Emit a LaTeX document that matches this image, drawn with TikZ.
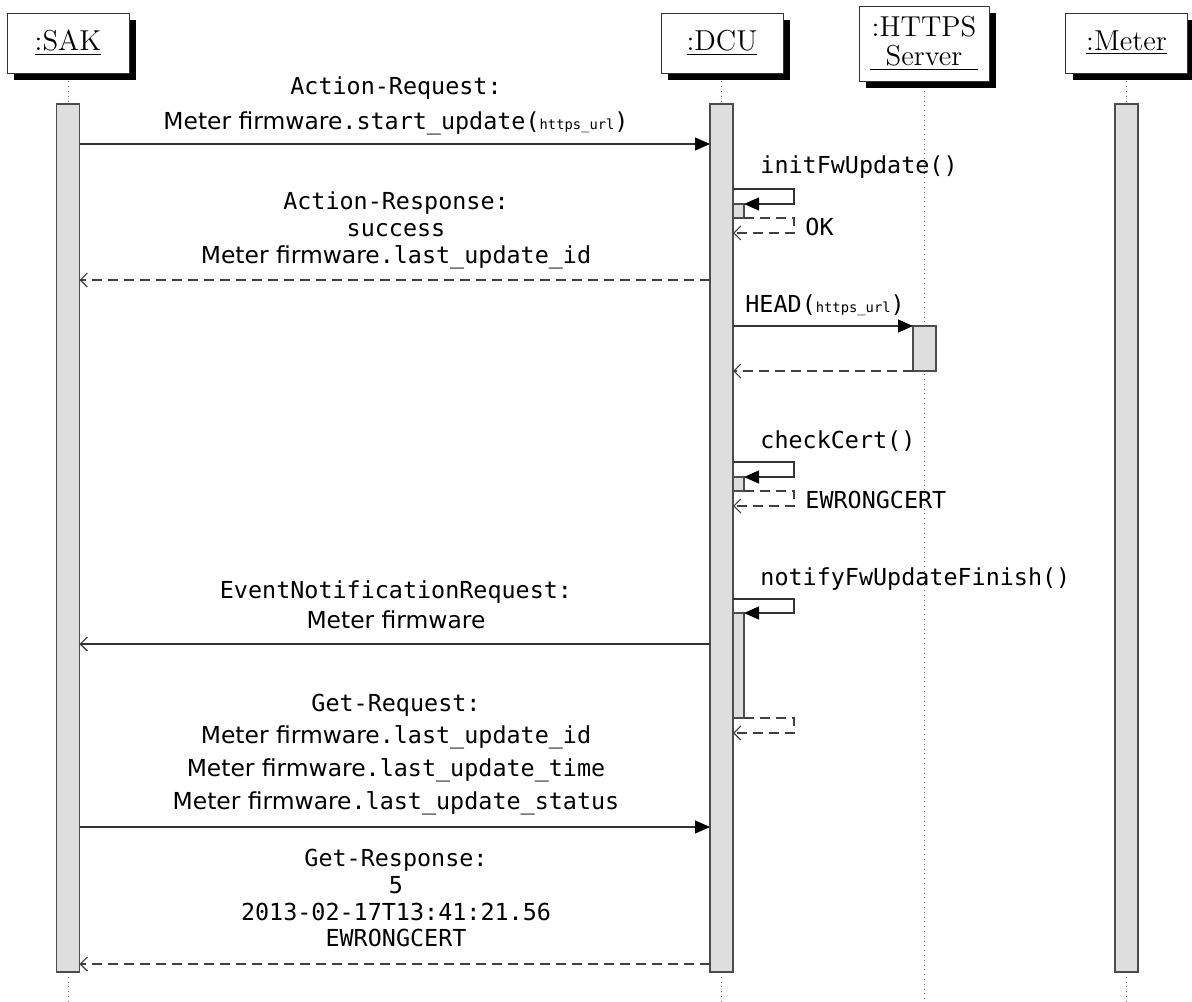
\documentclass[tikz,border=0pt]{standalone}
\usepackage{fontspec}
\setsansfont{DejaVu Sans}
\setmonofont{DejaVu Sans Mono}
\usetikzlibrary{arrows.meta,shadows}
\newcommand\mfw{{\sffamily Meter firmware}}
\newcommand\urlsmall{{\fontsize{6.9}{8}\selectfont\ttfamily https\_url}}
\begin{document}
\begin{tikzpicture}[x=0.5pt,y=-0.5pt,
  hdr/.style={draw=black!80, line width=0.5pt, fill=white, minimum width=61pt, minimum height=30pt, inner sep=0pt,
    font=\fontsize{14.4}{17}\selectfont,
    drop shadow={shadow xshift=3.5pt, shadow yshift=-3.5pt, fill=black, opacity=1}},
  life/.style={draw=black!60, line width=0.4pt, dotted},
  actbar/.style={draw=black!70, line width=0.6pt, fill=black!13, minimum width=11.5pt, inner sep=0pt, outer sep=0pt},
  nestbar/.style={actbar, minimum width=5.5pt},
  sync/.style={draw=black!80, line width=0.6pt, -{Triangle[length=7.5pt,width=6.5pt,color=black]}},
  asyncm/.style={draw=black!80, line width=0.6pt, -{Straight Barb[length=3.5pt,width=7pt]}},
  ret/.style={draw=black!75, line width=0.6pt, dash pattern=on 5pt off 3pt, -{Straight Barb[length=3.5pt,width=7pt]}},
  lbl/.style={inner sep=0pt, anchor=base, font=\fontsize{11.7}{14}\selectfont\ttfamily},
  lblw/.style={lbl, anchor=base west}
]
\useasboundingbox (0,0) rectangle (1192,1001);

% lifelines
\coordinate (sakend) at (68,1001);
\coordinate (dcuend) at (721.5,1001);
\coordinate (httpsend) at (924,1001);
\coordinate (meterend) at (1126.5,1001);

\node[actbar, minimum height=434pt] (sakbar) at (68,538) {};
\node[actbar, minimum height=434pt] (dcubar) at (721.5,538) {};
\node[actbar, minimum height=434pt] (meterbar) at (1126.5,538) {};

\draw[life] (68,43) -- (sakbar.north) (sakbar.south) -- (sakend);
\draw[life] (721.5,43) -- (dcubar.north) (dcubar.south) -- (dcuend);
\draw[life] (924,43) -- (httpsend);
\draw[life] (1126.5,43) -- (meterbar.north) (meterbar.south) -- (meterend);

% redraw bars on top of lifelines
\node[actbar, minimum height=434pt] at (68,538) {};
\node[actbar, minimum height=434pt] at (721.5,538) {};
\node[actbar, minimum height=434pt] at (1126.5,538) {};
\node[actbar, minimum height=22.5pt] (httpsbar) at (924.5,348.5) {};

% headers
\node[hdr] (sak) at (68,43) {\underline{:SAK}};
\node[hdr] (dcu) at (722,43) {\underline{:DCU}};
\node[hdr, minimum width=65pt, minimum height=37.5pt] (https) at (924,43.5)
  {\underline{\parbox[b]{54pt}{\fontsize{14.4}{14.5}\selectfont\centering :HTTPS\\Server}}};
\node[hdr] (meter) at (1126.5,43) {\underline{:Meter}};

% nested activation bars
\node[nestbar, minimum height=7pt] (nb1) at (738.5,211) {};
\node[nestbar, minimum height=7pt] (nb2) at (738.5,484) {};
\node[nestbar, minimum height=52.5pt] (nb3) at (738.5,665.5) {};

% 1: Action-Request
\node[lbl] (a1) at (396,94) {Action-Request:};
\node[lbl] (a2) at (396,129) {\mfw.start\_update(\urlsmall)};
\draw[sync] (sakbar.east |- 0,144) -- (dcubar.west |- 0,144);

% self call initFwUpdate
\node[lblw] (c1) at (760,173) {initFwUpdate()};
\draw[sync] (dcubar.east |- 0,189) -- (794,189) -- (794,0 |- nb1.north) -- (nb1.north east);
\draw[ret] (nb1.south east) -- (794,0 |- nb1.south) -- (794,233) -- (dcubar.east |- 0,233);
\node[lblw] (c1r) at (805,235) {OK};

% Action-Response
\node[lbl] (b1) at (396,209) {Action-Response:};
\node[lbl] (b2) at (396,236) {success};
\node[lbl] (b3) at (396,263) {\mfw.last\_update\_id};
\draw[ret] (dcubar.west |- 0,280) -- (sakbar.east |- 0,280);

% HEAD
\node[lblw] (h1) at (745,312) {HEAD(\urlsmall)};
\draw[sync] (dcubar.east |- httpsbar.north) -- (httpsbar.north west);
\draw[ret] (httpsbar.south west) -- (dcubar.east |- httpsbar.south);

% checkCert
\node[lblw] (c2) at (760,448) {checkCert()};
\draw[sync] (dcubar.east |- 0,462) -- (794,462) -- (794,0 |- nb2.north) -- (nb2.north east);
\draw[ret] (nb2.south east) -- (794,0 |- nb2.south) -- (794,506) -- (dcubar.east |- 0,506);
\node[lblw] (c2r) at (805,508) {EWRONGCERT};

% notifyFwUpdateFinish
\node[lblw] (c3) at (760,585) {notifyFwUpdateFinish()};
\draw[sync] (dcubar.east |- 0,599) -- (794,599) -- (794,0 |- nb3.north) -- (nb3.north east);
\draw[ret] (nb3.south east) -- (794,0 |- nb3.south) -- (794,733) -- (dcubar.east |- 0,733);

% EventNotificationRequest
\node[lbl] (e1) at (396,598) {EventNotificationRequest:};
\node[lbl] (e2) at (396,628) {\mfw};
\draw[asyncm] (dcubar.west |- 0,644) -- (sakbar.east |- 0,644);

% Get-Request
\node[lbl] (g1) at (396,711) {Get-Request:};
\node[lbl] (g2) at (396,743) {\mfw.last\_update\_id};
\node[lbl] (g3) at (396,776) {\mfw.last\_update\_time};
\node[lbl] (g4) at (396,809) {\mfw.last\_update\_status};
\draw[sync] (sakbar.east |- 0,827) -- (dcubar.west |- 0,827);

% Get-Response
\node[lbl] (r1) at (396,866) {Get-Response:};
\node[lbl] (r2) at (396,893) {5};
\node[lbl] (r3) at (396,920) {2013-02-17T13:41:21.56};
\node[lbl] (r4) at (396,946) {EWRONGCERT};
\draw[ret] (dcubar.west |- 0,964) -- (sakbar.east |- 0,964);
\end{tikzpicture}
\end{document}
